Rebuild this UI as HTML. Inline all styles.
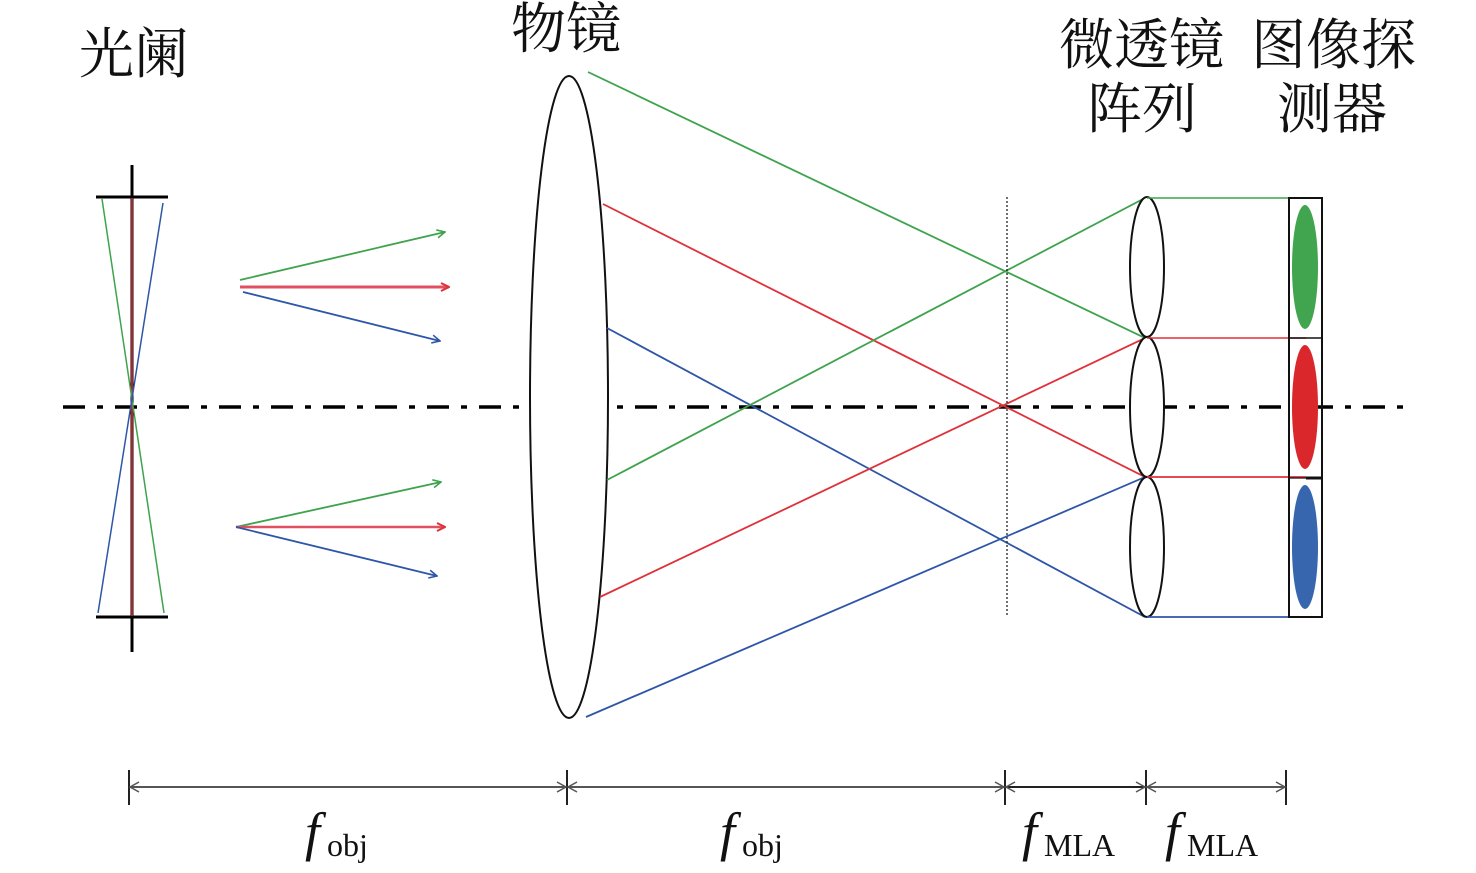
<!DOCTYPE html>
<html><head><meta charset="utf-8"><style>
html,body{margin:0;padding:0;background:#fff;}
svg{display:block;}
.cj{font-family:"Liberation Serif","Noto Serif CJK SC",serif;font-size:55px;fill:#111;}
.f{font-family:"Liberation Serif",serif;font-style:italic;font-size:54px;fill:#111;}
.s{font-family:"Liberation Serif",serif;font-size:32px;fill:#111;font-style:normal;}
</style></head><body>
<svg width="1476" height="873" viewBox="0 0 1476 873" xmlns="http://www.w3.org/2000/svg">
<defs>
<marker id="ag" markerWidth="10" markerHeight="10" refX="9" refY="5" orient="auto" markerUnits="userSpaceOnUse"><path d="M1,1 L9,5 L1,9" fill="none" stroke="#3fa34d" stroke-width="1.6"/></marker>
<marker id="ar" markerWidth="10" markerHeight="10" refX="9" refY="5" orient="auto" markerUnits="userSpaceOnUse"><path d="M1,1 L9,5 L1,9" fill="none" stroke="#e0303a" stroke-width="2"/></marker>
<marker id="ab" markerWidth="10" markerHeight="10" refX="9" refY="5" orient="auto" markerUnits="userSpaceOnUse"><path d="M1,1 L9,5 L1,9" fill="none" stroke="#2e56a8" stroke-width="1.6"/></marker>
<marker id="dk" markerWidth="12" markerHeight="12" refX="10" refY="6" orient="auto-start-reverse" markerUnits="userSpaceOnUse"><path d="M1,1 L10,6 L1,11" fill="none" stroke="#555" stroke-width="1.5"/></marker>
</defs>
<!-- axis -->
<line x1="63" y1="407" x2="1410" y2="407" stroke="#000" stroke-width="3.5" stroke-dasharray="22,12,6,12"/>
<!-- aperture -->
<line x1="132" y1="165" x2="132" y2="652" stroke="#000" stroke-width="3"/>
<line x1="96" y1="197" x2="168" y2="197" stroke="#000" stroke-width="3"/>
<line x1="96" y1="617" x2="168" y2="617" stroke="#000" stroke-width="3"/>
<line x1="132" y1="198" x2="132" y2="616" stroke="#e0303a" stroke-width="1.5"/>
<line x1="102" y1="199" x2="164" y2="613" stroke="#3fa34d" stroke-width="1.5"/>
<line x1="163" y1="203" x2="98" y2="613" stroke="#2e56a8" stroke-width="1.5"/>
<!-- arrows -->
<line x1="240" y1="280" x2="445" y2="232" stroke="#3fa34d" stroke-width="1.8" marker-end="url(#ag)"/>
<line x1="240" y1="287" x2="449" y2="287" stroke="#e05060" stroke-width="3" marker-end="url(#ar)"/>
<line x1="243" y1="292" x2="440" y2="341" stroke="#2e56a8" stroke-width="1.8" marker-end="url(#ab)"/>
<line x1="236" y1="527" x2="441" y2="482" stroke="#3fa34d" stroke-width="1.8" marker-end="url(#ag)"/>
<line x1="236" y1="527" x2="445" y2="527" stroke="#e05060" stroke-width="2.5" marker-end="url(#ar)"/>
<line x1="236" y1="527" x2="437" y2="576" stroke="#2e56a8" stroke-width="1.8" marker-end="url(#ab)"/>
<!-- objective -->
<ellipse cx="569" cy="397" rx="39" ry="321" fill="#fff" stroke="#111" stroke-width="2"/>
<!-- rays -->
<g stroke-width="1.8" fill="none">
<line x1="588" y1="72" x2="1145" y2="338" stroke="#3fa34d"/>
<line x1="603" y1="204" x2="1145" y2="477" stroke="#e0303a"/>
<line x1="607" y1="328" x2="1145" y2="617" stroke="#2e56a8"/>
<line x1="607" y1="480" x2="1145" y2="198" stroke="#3fa34d"/>
<line x1="600" y1="597" x2="1145" y2="338" stroke="#e0303a"/>
<line x1="586" y1="717" x2="1145" y2="477" stroke="#2e56a8"/>
</g>
<line x1="1007" y1="197" x2="1007" y2="615" stroke="#222" stroke-width="1.3" stroke-dasharray="2,2"/>
<!-- MLA -->
<g fill="#fff" stroke="#111" stroke-width="2">
<ellipse cx="1147" cy="267" rx="17" ry="70"/>
<ellipse cx="1147" cy="407" rx="17" ry="70"/>
<ellipse cx="1147" cy="547" rx="17" ry="70"/>
</g>
<line x1="1147" y1="198" x2="1306" y2="198" stroke="#3fa34d" stroke-width="1.5"/>
<line x1="1147" y1="338" x2="1306" y2="338" stroke="#e0303a" stroke-width="1.5"/>
<line x1="1147" y1="477" x2="1306" y2="477" stroke="#e0303a" stroke-width="1.8"/>
<line x1="1147" y1="617" x2="1306" y2="617" stroke="#2e56a8" stroke-width="1.8"/>
<!-- detector -->
<rect x="1289" y="198" width="33" height="419" fill="none" stroke="#111" stroke-width="2"/>
<line x1="1289" y1="338" x2="1322" y2="338" stroke="#111" stroke-width="1.5"/>
<line x1="1306" y1="478" x2="1322" y2="478" stroke="#111" stroke-width="3"/>
<line x1="1289" y1="478" x2="1306" y2="478" stroke="#111" stroke-width="1.2"/>
<ellipse cx="1305" cy="267" rx="13" ry="62" fill="#40a54e"/>
<ellipse cx="1305" cy="407" rx="13" ry="62" fill="#da272b"/>
<ellipse cx="1305" cy="547" rx="13" ry="62" fill="#3766ae"/>
<!-- dimension -->
<g stroke="#222" stroke-width="2">
<line x1="129" y1="770" x2="129" y2="805"/>
<line x1="567" y1="770" x2="567" y2="805"/>
<line x1="1005" y1="770" x2="1005" y2="805"/>
<line x1="1146" y1="770" x2="1146" y2="805"/>
<line x1="1286" y1="770" x2="1286" y2="805"/>
</g>
<g stroke="#555" stroke-width="2">
<line x1="130" y1="787" x2="566" y2="787" marker-start="url(#dk)" marker-end="url(#dk)"/>
<line x1="568" y1="787" x2="1004" y2="787" marker-start="url(#dk)" marker-end="url(#dk)"/>
<line x1="1006" y1="787" x2="1145" y2="787" marker-start="url(#dk)" marker-end="url(#dk)" stroke="#222"/>
<line x1="1147" y1="787" x2="1285" y2="787" marker-start="url(#dk)" marker-end="url(#dk)"/>
</g>
<text x="305" y="850" class="f">f<tspan class="s" dx="7" dy="6">obj</tspan></text>
<text x="720" y="850" class="f">f<tspan class="s" dx="7" dy="6">obj</tspan></text>
<text x="1022" y="850" class="f">f<tspan class="s" dx="7" dy="6">MLA</tspan></text>
<text x="1165" y="850" class="f">f<tspan class="s" dx="7" dy="6">MLA</tspan></text>
<!-- titles -->
<text x="79" y="73" class="cj">光阑</text>
<text x="511" y="48" class="cj">物镜</text>
<text x="1059" y="64" class="cj">微透镜</text>
<text x="1087" y="128" class="cj">阵列</text>
<text x="1251" y="64" class="cj">图像探</text>
<text x="1277" y="128" class="cj">测器</text>
</svg>
</body></html>
